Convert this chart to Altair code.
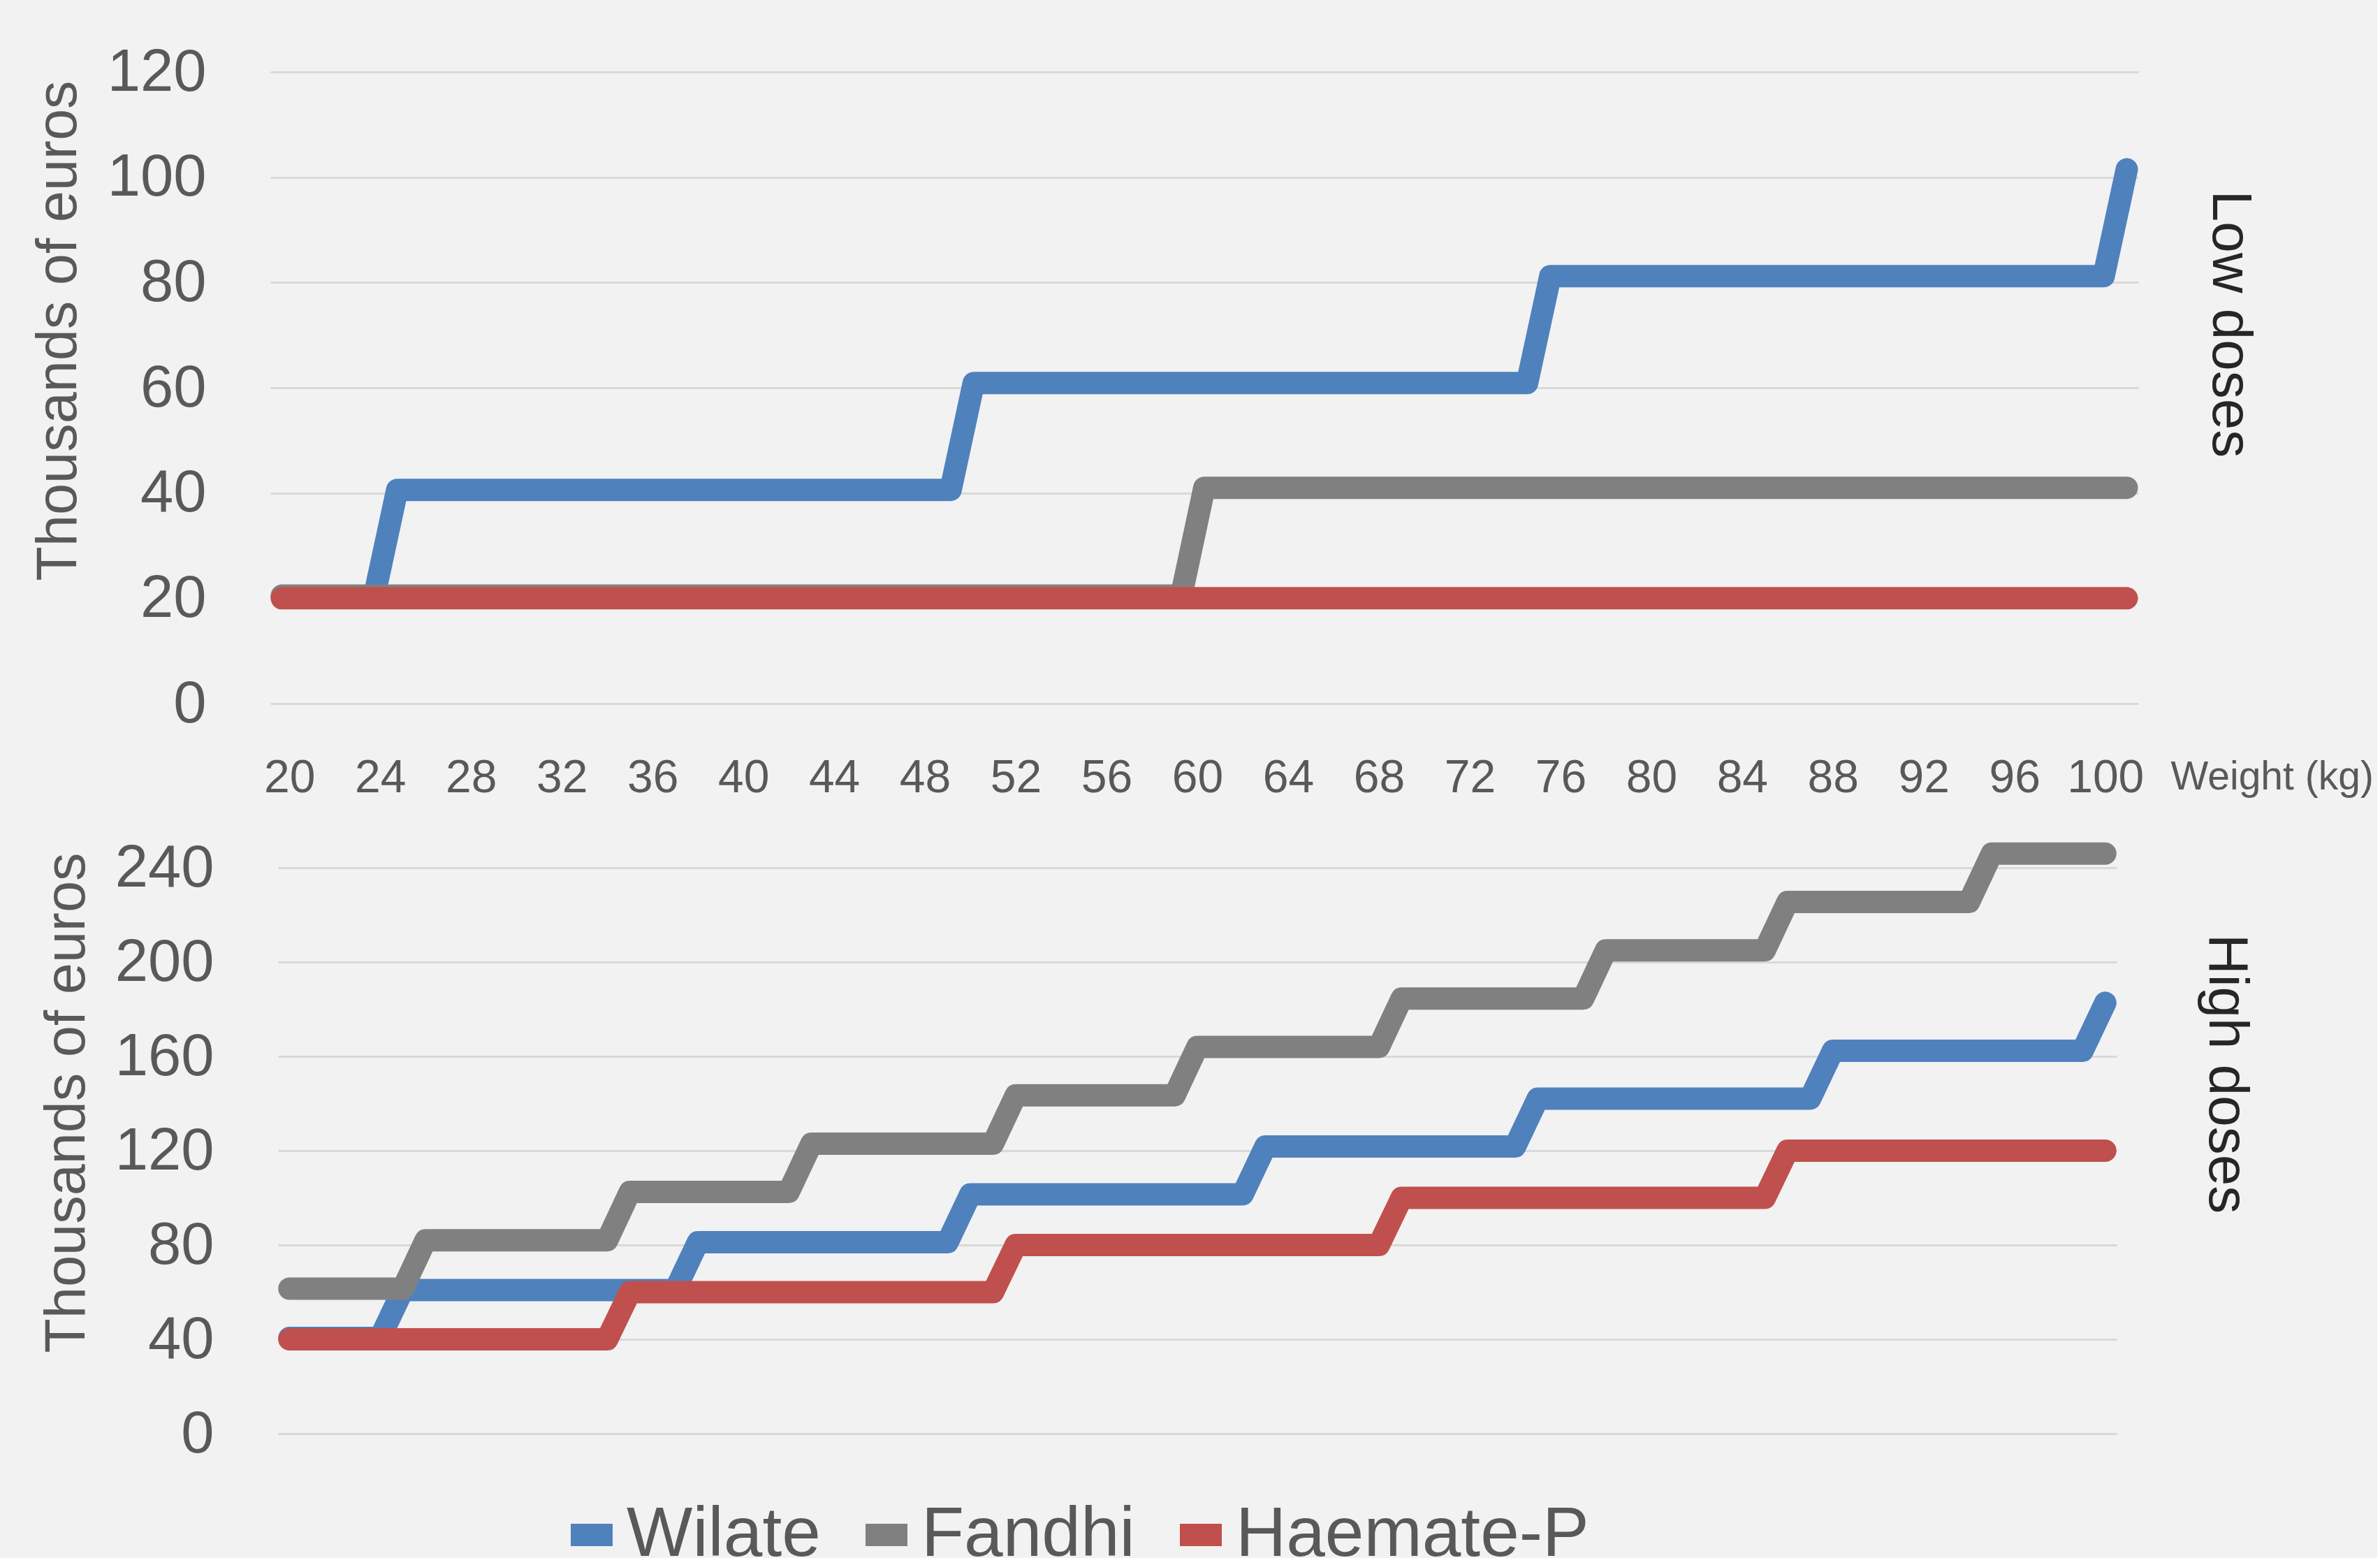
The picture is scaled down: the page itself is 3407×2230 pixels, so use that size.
import altair as alt
import pandas as pd

FONT = "Liberation Sans"
TEXT_GREY = "#595959"

SERIES = ["Wilate", "Fandhi", "Haemate-P"]
COLORS = ["#4F81BD", "#808080", "#C0504D"]

# Low doses: corner points of the step curves (weight kg, thousands of euros)
LOW_WILATE_KG = [20, 24, 25, 49, 50, 74, 75, 99, 100]
LOW_WILATE_K = [20.3, 20.3, 40.6, 40.6, 60.9, 60.9, 81.2, 81.2, 101.5]
LOW_FANDHI_KG = [20, 59, 60, 100]
LOW_FANDHI_K = [20.5, 20.5, 41, 41]
LOW_HAEMATE_KG = [20, 100]
LOW_HAEMATE_K = [20, 20]

# High doses
HIGH_WILATE_KG = [20, 24, 25, 37, 38, 49, 50, 62, 63, 74, 75, 87, 88, 99, 100]
HIGH_WILATE_K = [40.6, 40.6, 60.9, 60.9, 81.2, 81.2, 101.5, 101.5, 121.8, 121.8,
                 142.1, 142.1, 162.4, 162.4, 182.7]
HIGH_FANDHI_KG = [20, 25, 26, 34, 35, 42, 43, 51, 52, 59, 60, 68, 69, 77, 78, 85,
                  86, 94, 95, 100]
HIGH_FANDHI_K = [61.5, 61.5, 82, 82, 102.5, 102.5, 123, 123, 143.5, 143.5, 164, 164,
                 184.5, 184.5, 205, 205, 225.5, 225.5, 246, 246]
HIGH_HAEMATE_KG = [20, 34, 35, 51, 52, 68, 69, 85, 86, 100]
HIGH_HAEMATE_K = [40, 40, 60, 60, 80, 80, 100, 100, 120, 120]

X_TICKS = [20, 24, 28, 32, 36, 40, 44, 48, 52, 56, 60, 64, 68, 72, 76, 80, 84, 88, 92, 96, 100]
Y_TICKS_LOW = [0, 20, 40, 60, 80, 100, 120]
Y_TICKS_HIGH = [0, 40, 80, 120, 160, 200, 240]

Y_TITLE = "Thousands of euros"
X_TITLE = "Weight (kg)"
LOW_LABEL = "Low doses"
HIGH_LABEL = "High doses"


def frame(parts):
    rows = []
    for name, kgs, vals in parts:
        for i, (k, v) in enumerate(zip(kgs, vals)):
            rows.append({"series": name, "kg": k, "cost": v, "i": i})
    return pd.DataFrame(rows)


low_df = frame([("Wilate", LOW_WILATE_KG, LOW_WILATE_K),
                ("Fandhi", LOW_FANDHI_KG, LOW_FANDHI_K),
                ("Haemate-P", LOW_HAEMATE_KG, LOW_HAEMATE_K)])
high_df = frame([("Wilate", HIGH_WILATE_KG, HIGH_WILATE_K),
                 ("Fandhi", HIGH_FANDHI_KG, HIGH_FANDHI_K),
                 ("Haemate-P", HIGH_HAEMATE_KG, HIGH_HAEMATE_K)])

legend = alt.Legend(
    title=None, orient="none", legendX=394, legendY=2044, direction="horizontal",
    symbolType="stroke", symbolStrokeWidth=32, symbolSize=3600, symbolOffset=16,
    labelFontSize=100, labelFont=FONT, labelColor=TEXT_GREY, labelOffset=0,
    columnPadding=0, padding=0, labelLimit=0,
)
color = alt.Color("series:N", scale=alt.Scale(domain=SERIES, range=COLORS),
                  sort=SERIES, legend=legend)

line_style = dict(strokeWidth=32, strokeCap="round", strokeJoin="round")


def y_axis(values, pad, tx, ty):
    return alt.Axis(values=values, title=Y_TITLE, labelFontSize=85, labelFont=FONT,
                    labelColor=TEXT_GREY, labelPadding=pad, ticks=False, domain=False,
                    grid=True, gridColor="#D9D9D9", gridWidth=3, labelFlush=False,
                    labelOverlap=False, titleFontSize=81, titleFont=FONT,
                    titleColor=TEXT_GREY, titleFontWeight="normal", titleX=tx, titleY=ty,
                    titleAngle=270, titleAlign="center", titleBaseline="middle")


top_lines = alt.Chart(low_df).mark_line(**line_style).encode(
    x=alt.X("kg:Q", scale=alt.Scale(domain=[19.5, 100.5], nice=False, zero=False), axis=None),
    y=alt.Y("cost:Q", scale=alt.Scale(domain=[0, 120], nice=False),
            axis=y_axis(Y_TICKS_LOW, 92, -303, 370)),
    color=color,
    order="i:Q",
)
top_text = alt.Chart(pd.DataFrame({"label": [LOW_LABEL]})).mark_text(
    angle=90, fontSize=80, font=FONT, color="#262626", align="center", baseline="middle"
).encode(text="label:N", x=alt.value(2805), y=alt.value(361))
top = alt.layer(top_lines, top_text).properties(width=2674, height=904)

bottom_lines = alt.Chart(high_df).mark_line(**line_style).encode(
    x=alt.X("kg:Q", scale=alt.Scale(domain=[19.5, 100.5], nice=False, zero=False,
                                     range=[11, 2643]),
            axis=alt.Axis(orient="top", values=X_TICKS, title=X_TITLE, labelFontSize=66,
                          labelFont=FONT, labelColor=TEXT_GREY, labelPadding=95,
                          ticks=False, domain=False, grid=False, labelFlush=False,
                          labelOverlap=False, titleFontSize=57, titleFont=FONT,
                          titleColor=TEXT_GREY, titleFontWeight="normal", titleX=2720,
                          titleY=-113, titleAlign="left", titleBaseline="alphabetic")),
    y=alt.Y("cost:Q", scale=alt.Scale(domain=[0, 240], nice=False),
            axis=y_axis(Y_TICKS_HIGH, 81, -291, 336)),
    color=color,
    order="i:Q",
)
bottom_text = alt.Chart(pd.DataFrame({"label": [HIGH_LABEL]})).mark_text(
    angle=90, fontSize=80, font=FONT, color="#262626", align="center", baseline="middle"
).encode(text="label:N", x=alt.value(2800), y=alt.value(295))
bottom = alt.layer(bottom_lines, bottom_text).properties(width=2643, height=810)

chart = alt.vconcat(top, bottom, spacing=235, bounds="flush").resolve_scale(
    x="independent", y="independent", color="shared"
).properties(
    padding={"left": 43, "top": 61, "right": 5, "bottom": 5},
    background="#F2F2F2",
).configure_view(stroke=None)

chart.save("out.html", embed_options={"renderer": "svg", "actions": False})
